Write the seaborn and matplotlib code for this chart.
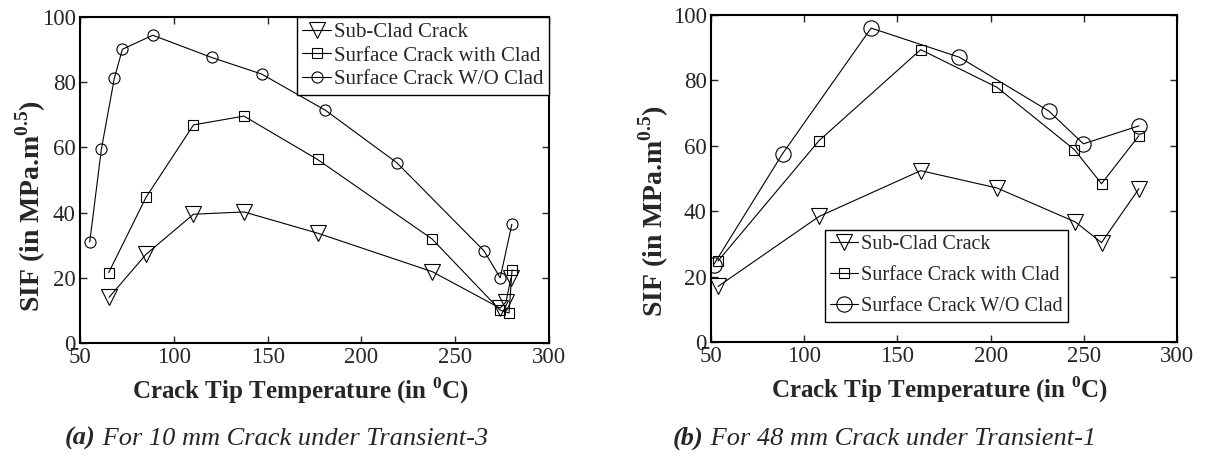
import pandas as pd
import seaborn as sns
import matplotlib.pyplot as plt

# (a) 10 mm crack under Transient-3
a_sub_temp = [65.5, 85.2, 110.5, 137.4, 176.6, 237.7, 273.9, 277.1, 279.7]
a_sub_sif = [14.0, 27.2, 39.5, 40.2, 33.7, 21.9, 10.7, 12.6, 19.9]
a_clad_temp = [65.3, 85.2, 110.5, 137.4, 176.6, 237.7, 273.9, 278.7, 280.3]
a_clad_sif = [21.6, 44.7, 66.9, 69.6, 56.3, 31.9, 10.1, 9.2, 22.4]
a_wo_temp = [55.2, 61.4, 68.3, 72.6, 88.8, 120.1, 146.8, 180.8, 218.9, 265.3, 274.0, 280.2]
a_wo_sif = [31.0, 59.5, 81.2, 90.1, 94.4, 87.6, 82.5, 71.4, 55.3, 28.3, 20.0, 36.4]

# (b) 48 mm crack under Transient-1
b_sub_temp = [53.8, 108.0, 162.5, 203.4, 245.5, 259.5, 279.6]
b_sub_sif = [17.0, 38.4, 52.4, 47.1, 36.7, 30.4, 46.9]
b_clad_temp = [53.8, 108.0, 162.5, 203.4, 245.0, 259.5, 279.6]
b_clad_sif = [24.8, 61.6, 89.4, 77.9, 58.8, 48.4, 63.1]
b_wo_temp = [51.4, 88.4, 135.9, 183.2, 231.3, 249.8, 279.6]
b_wo_sif = [23.6, 57.6, 96.0, 87.1, 70.6, 60.6, 66.1]

labels = ['Sub-Clad Crack', 'Surface Crack with Clad', 'Surface Crack W/O Clad']
x_ticks = [50, 100, 150, 200, 250, 300]
y_ticks = [0, 20, 40, 60, 80, 100]
captions = ['For 10 mm Crack under Transient-3', 'For 48 mm Crack under Transient-1']

sns.set_style('ticks')
plt.rcParams['font.family'] = ['Liberation Serif', 'DejaVu Serif']
plt.rcParams['mathtext.fontset'] = 'custom'
plt.rcParams['mathtext.rm'] = 'Liberation Serif'
plt.rcParams['mathtext.bf'] = 'Liberation Serif:bold'

fig = plt.figure(figsize=(12.23, 4.66), dpi=100)
ax1 = fig.add_axes([80 / 1223, 123 / 466, 469 / 1223, 326 / 466])
ax2 = fig.add_axes([711 / 1223, 124 / 466, 466 / 1223, 327 / 466])

panels = [
    (ax1, [(a_sub_temp, a_sub_sif, 'v', 12), (a_clad_temp, a_clad_sif, 's', 6.5), (a_wo_temp, a_wo_sif, 'o', 8)]),
    (ax2, [(b_sub_temp, b_sub_sif, 'v', 12), (b_clad_temp, b_clad_sif, 's', 6.5), (b_wo_temp, b_wo_sif, 'o', 11)]),
]

for ax, series in panels:
    for (t, s, m, ms), lab in zip(series, labels):
        df = pd.DataFrame({'temp': t, 'sif': s})
        sns.lineplot(data=df, x='temp', y='sif', ax=ax, sort=False, estimator=None,
                     color='k', lw=0.8, marker=m, markersize=ms,
                     markerfacecolor='none', markeredgecolor='k', markeredgewidth=0.8,
                     label=lab)
    ax.set_xlim(50, 300)
    ax.set_ylim(0, 100)
    ax.set_xticks(x_ticks)
    ax.set_yticks(y_ticks)
    ax.tick_params(direction='in', top=True, right=True, length=5, width=1,
                   labelsize=16.5, pad=3)
    for sp in ax.spines.values():
        sp.set_visible(True)
        sp.set_linewidth(1.5)
        sp.set_color('k')
    ax.set_xlabel(r'Crack Tip Temperature (in $^{\mathbf{0}}$C)', fontsize=18, fontweight='bold')
    ax.set_ylabel(r'SIF (in MPa.m$^{\mathbf{0.5}}$)', fontsize=20, fontweight='bold')

ax1.xaxis.set_label_coords(0.47, -0.10)
ax2.xaxis.set_label_coords(0.49, -0.10)
ax1.yaxis.set_label_coords(-0.068, 0.42)
ax2.yaxis.set_label_coords(-0.086, 0.40)

leg_kw = dict(frameon=True, fancybox=False, edgecolor='k', framealpha=1,
              handlelength=1.4, handletextpad=0.15, borderpad=0.25, borderaxespad=0)
leg1 = ax1.legend(loc='upper right', bbox_to_anchor=(1, 1), labelspacing=0.2,
                  fontsize=15, **leg_kw)
leg2 = ax2.legend(loc='upper left', bbox_to_anchor=(0.245, 0.3425), labelspacing=0.6,
                  fontsize=14.5, **leg_kw)
for leg in (leg1, leg2):
    leg.get_frame().set_linewidth(1.0)

# captions: bold-italic tag followed by italic text
for xpos, tag, cap in zip([65 / 1223, 673 / 1223], ['(a)', '(b)'], captions):
    t1 = fig.text(xpos, 0.045, tag, fontsize=19, fontweight='bold', style='italic')
    ax1.annotate(' ' + cap, xy=(1, 0), xycoords=t1, va='bottom', ha='left',
                 fontsize=19, style='italic', annotation_clip=False)

fig.savefig('out.png', dpi=100)
